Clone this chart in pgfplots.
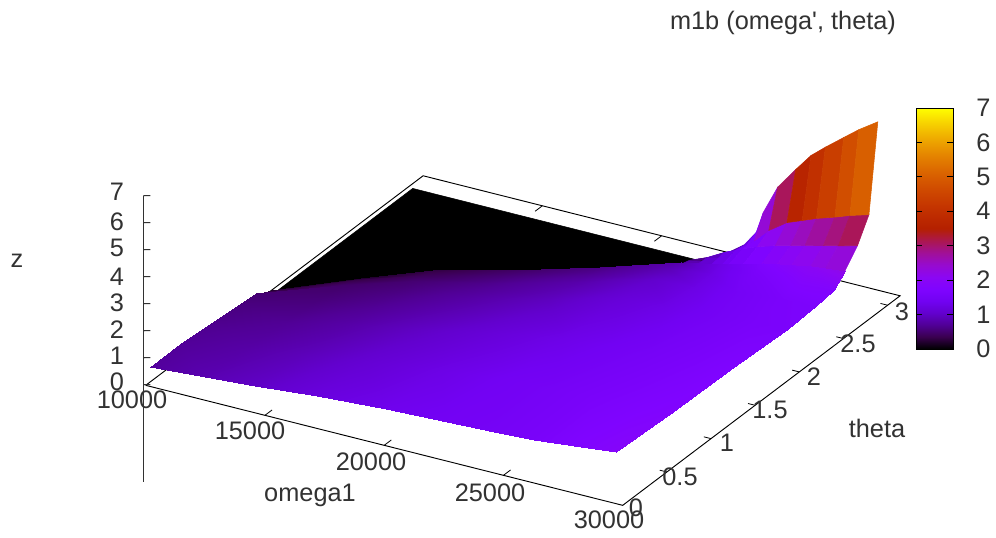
\documentclass[border=0pt]{standalone}
\usepackage{fontspec}
\setmainfont{Liberation Sans}
\newfontfamily\rawfont{Liberation Sans}
\usepackage{pgfplots}
\pgfplotsset{compat=1.18}
\definecolor{txt}{RGB}{50,50,50}
\pgfplotsset{
  colormap={gp}{rgb=(0,0,0) rgb=(.224,0,.309) rgb=(.316,.001,.588) rgb=(.387,.003,.809)
    rgb=(.447,.008,.951) rgb=(.5,.016,1) rgb=(.548,.027,.951) rgb=(.592,.043,.809)
    rgb=(.632,.064,.588) rgb=(.671,.091,.309) rgb=(.707,.125,0) rgb=(.742,.166,0)
    rgb=(.775,.216,0) rgb=(.806,.275,0) rgb=(.837,.343,0) rgb=(.866,.422,0)
    rgb=(.894,.512,0) rgb=(.922,.614,0) rgb=(.949,.729,0) rgb=(.975,.857,0) rgb=(1,1,0)}
}
\newcommand{\lab}[3]{\node[text=txt,inner sep=0pt,font=\fontsize{19}{21}\selectfont] at ({#1*0.75pt},{(538-#2)*0.75pt}) {#3};}
\begin{document}
\begin{tikzpicture}
\useasboundingbox (0,0) rectangle (747pt,403.5pt);
\begin{axis}[
  at={(109.275pt,114.5pt)}, anchor=origin, disabledatascaling,
  x={(17.8875pt,-4.5pt)}, y={(66.225pt,50.025pt)}, z={(0pt,20.25pt)},
  xmin=10, xmax=30, ymin=0, ymax=3.1416, zmin=-3.6, zmax=7,
  hide axis, clip=false,
  point meta min=0, point meta max=7,
  unbounded coords=jump,
]
% base frame
\addplot3[black, line width=0.7pt, forget plot] coordinates {(10,0,0)(30,0,0)(30,3.1416,0)(10,3.1416,0)(10,0,0)};
% ticks
\addplot3[black, line width=0.6pt, forget plot] table {
x y z
15 0 0
15 0.08 0
nan nan nan
20 0 0
20 0.08 0
nan nan nan
25 0 0
25 0.08 0
nan nan nan
15 3.1416 0
15 3.06 0
nan nan nan
20 3.1416 0
20 3.06 0
nan nan nan
25 3.1416 0
25 3.06 0
nan nan nan
30 0.5 0
29.7 0.5 0
nan nan nan
30 1 0
29.7 1 0
nan nan nan
30 1.5 0
29.7 1.5 0
nan nan nan
30 2 0
29.7 2 0
nan nan nan
30 2.5 0
29.7 2.5 0
nan nan nan
30 3 0
29.7 3 0
};
% z axis
\addplot3[txt, line width=1.1pt, forget plot] coordinates {(9.9,0,7)(9.9,0,-3.6)};
\addplot3[txt, line width=0.8pt, forget plot] table {
x y z
9.9 0 0
10.2 0 0.07
nan nan nan
9.9 0 1
10.2 0 1.07
nan nan nan
9.9 0 2
10.2 0 2.07
nan nan nan
9.9 0 3
10.2 0 3.07
nan nan nan
9.9 0 4
10.2 0 4.07
nan nan nan
9.9 0 5
10.2 0 5.07
nan nan nan
9.9 0 6
10.2 0 6.07
nan nan nan
9.9 0 7
10.2 0 7.07
};
% black z=0 part behind the ridge
\addplot3[surf, shader=flat, z buffer=none, forget plot] table {
x y z
10.2 1.4 0
10.2 2.97 0

23.4 2.5 0
23.4 2.97 0
};
% rising tip
\addplot3[surf, shader=flat mean, z buffer=none, forget plot] table {
x y z
22.65 2.55 0.85
22.65 2.74 0.67
22.65 2.87 0.33
22.65 2.97 0

23.4 2.55 0.98
23.4 2.74 0.94
23.4 2.87 0.62
23.4 2.97 0.55

24.1 2.55 1.14
24.1 2.74 1.28
24.1 2.87 1.04
24.1 2.97 1.0

24.6 2.55 1.3
24.6 2.74 1.47
24.6 2.87 1.37
24.6 2.97 1.57

24.9 2.55 1.38
24.9 2.74 1.6
24.9 2.87 1.58
24.9 2.97 2.38

25.5 2.55 1.5
25.5 2.74 1.81
25.5 2.87 2.09
25.5 2.97 3.44

26.26 2.55 1.66
26.26 2.74 2.02
26.26 2.87 2.55
26.26 2.97 4.27

26.9 2.55 1.78
26.9 2.74 2.16
26.9 2.87 2.77
26.9 2.97 4.93

27.5 2.55 1.85
27.5 2.74 2.3
27.5 2.87 2.98
27.5 2.97 5.37

28.27 2.55 1.92
28.27 2.74 2.47
28.27 2.87 3.2
28.27 2.97 5.9

28.9 2.55 1.98
28.9 2.74 2.6
28.9 2.87 3.4
28.9 2.97 6.33

29.7 2.55 2.0
29.7 2.74 2.78
29.7 2.87 3.61
29.7 2.97 6.8
};
% front surface
\addplot3[surf, shader=interp, z buffer=none, forget plot] table {
x y z
10.2 0 0.74
10.2 0.34 0.72
10.2 0.68 0.66
10.2 1.02 0.58
10.2 1.19 0.52
10.2 1.29 0.32
10.2 1.36 0.2

12.5 0 0.87
12.5 0.44 0.80
12.5 0.88 0.70
12.5 1.32 0.55
12.5 1.54 0.48
12.5 1.67 0.33
12.5 1.76 0.2

14.6 0 1.0
14.6 0.50 0.92
14.6 1.01 0.80
14.6 1.51 0.62
14.6 1.76 0.52
14.6 1.91 0.4
14.6 2.015 0.3

17.2 0 1.2
17.2 0.55 1.1
17.2 1.10 0.98
17.2 1.64 0.78
17.2 1.92 0.65
17.2 2.08 0.53
17.2 2.19 0.45

20.07 0 1.35
20.07 0.61 1.28
20.07 1.22 1.15
20.07 1.82 0.95
20.07 2.13 0.82
20.07 2.31 0.68
20.07 2.43 0.6

22.65 0 1.45
22.65 0.66 1.42
22.65 1.32 1.3
22.65 1.98 1.15
22.65 2.31 1.03
22.65 2.51 0.92
22.65 2.64 0.85

24.6 0 1.5
24.6 0.65 1.5
24.6 1.3 1.42
24.6 1.95 1.3
24.6 2.275 1.27
24.6 2.47 1.27
24.6 2.6 1.3

26.26 0 1.6
26.26 0.65 1.6
26.26 1.3 1.52
26.26 1.95 1.45
26.26 2.275 1.47
26.26 2.47 1.58
26.26 2.6 1.72

28.27 0 1.78
28.27 0.65 1.72
28.27 1.3 1.65
28.27 1.95 1.6
28.27 2.275 1.64
28.27 2.47 1.82
28.27 2.6 2.05

29.7 0 1.89
29.7 0.65 1.8
29.7 1.3 1.75
29.7 1.95 1.65
29.7 2.275 1.68
29.7 2.47 1.8
29.7 2.6 2.2
};
\end{axis}
% colour box
\begin{axis}[
  at={(687pt,141.75pt)}, anchor=south west, scale only axis,
  width=27.75pt, height=180.75pt,
  xmin=0, xmax=1, ymin=0, ymax=7,
  xtick=\empty, ytick={0,1,2,3,4,5,6,7},
  yticklabel pos=right, tick align=inside, major tick length=4.5pt,
  tick style={black, line width=0.7pt},
  axis line style={black, line width=0.7pt},
  axis on top,
  point meta min=0, point meta max=7,
  enlargelimits=false,
  /pgf/number format/assume math mode=true,
  yticklabel style={font=\fontsize{19}{21}\selectfont, text=txt, xshift=14pt},
]
\addplot[surf, shader=interp, point meta=y] table {
x y
0 0
0 7

1 0
1 7
};
\end{axis}
% labels
\lab{783}{23}{{\rawfont m1b (omega', theta)}}
\lab{17}{261}{z}
\lab{117}{192}{7}\lab{117}{222}{6}\lab{117}{248}{5}\lab{117}{277}{4}
\lab{117}{303}{3}\lab{117}{330}{2}\lab{117}{356}{1}\lab{117}{382}{0}
\lab{132}{400}{10000}\lab{250}{431}{15000}\lab{371}{462}{20000}
\lab{490}{493}{25000}\lab{609}{520}{30000}
\lab{310}{495}{omega1}
\lab{636}{508}{0}\lab{680}{477}{0.5}\lab{727}{443}{1}\lab{770}{410}{1.5}
\lab{814}{377}{2}\lab{858}{344}{2.5}\lab{902}{312}{3}
\lab{877}{428}{theta}
\end{tikzpicture}
\end{document}
